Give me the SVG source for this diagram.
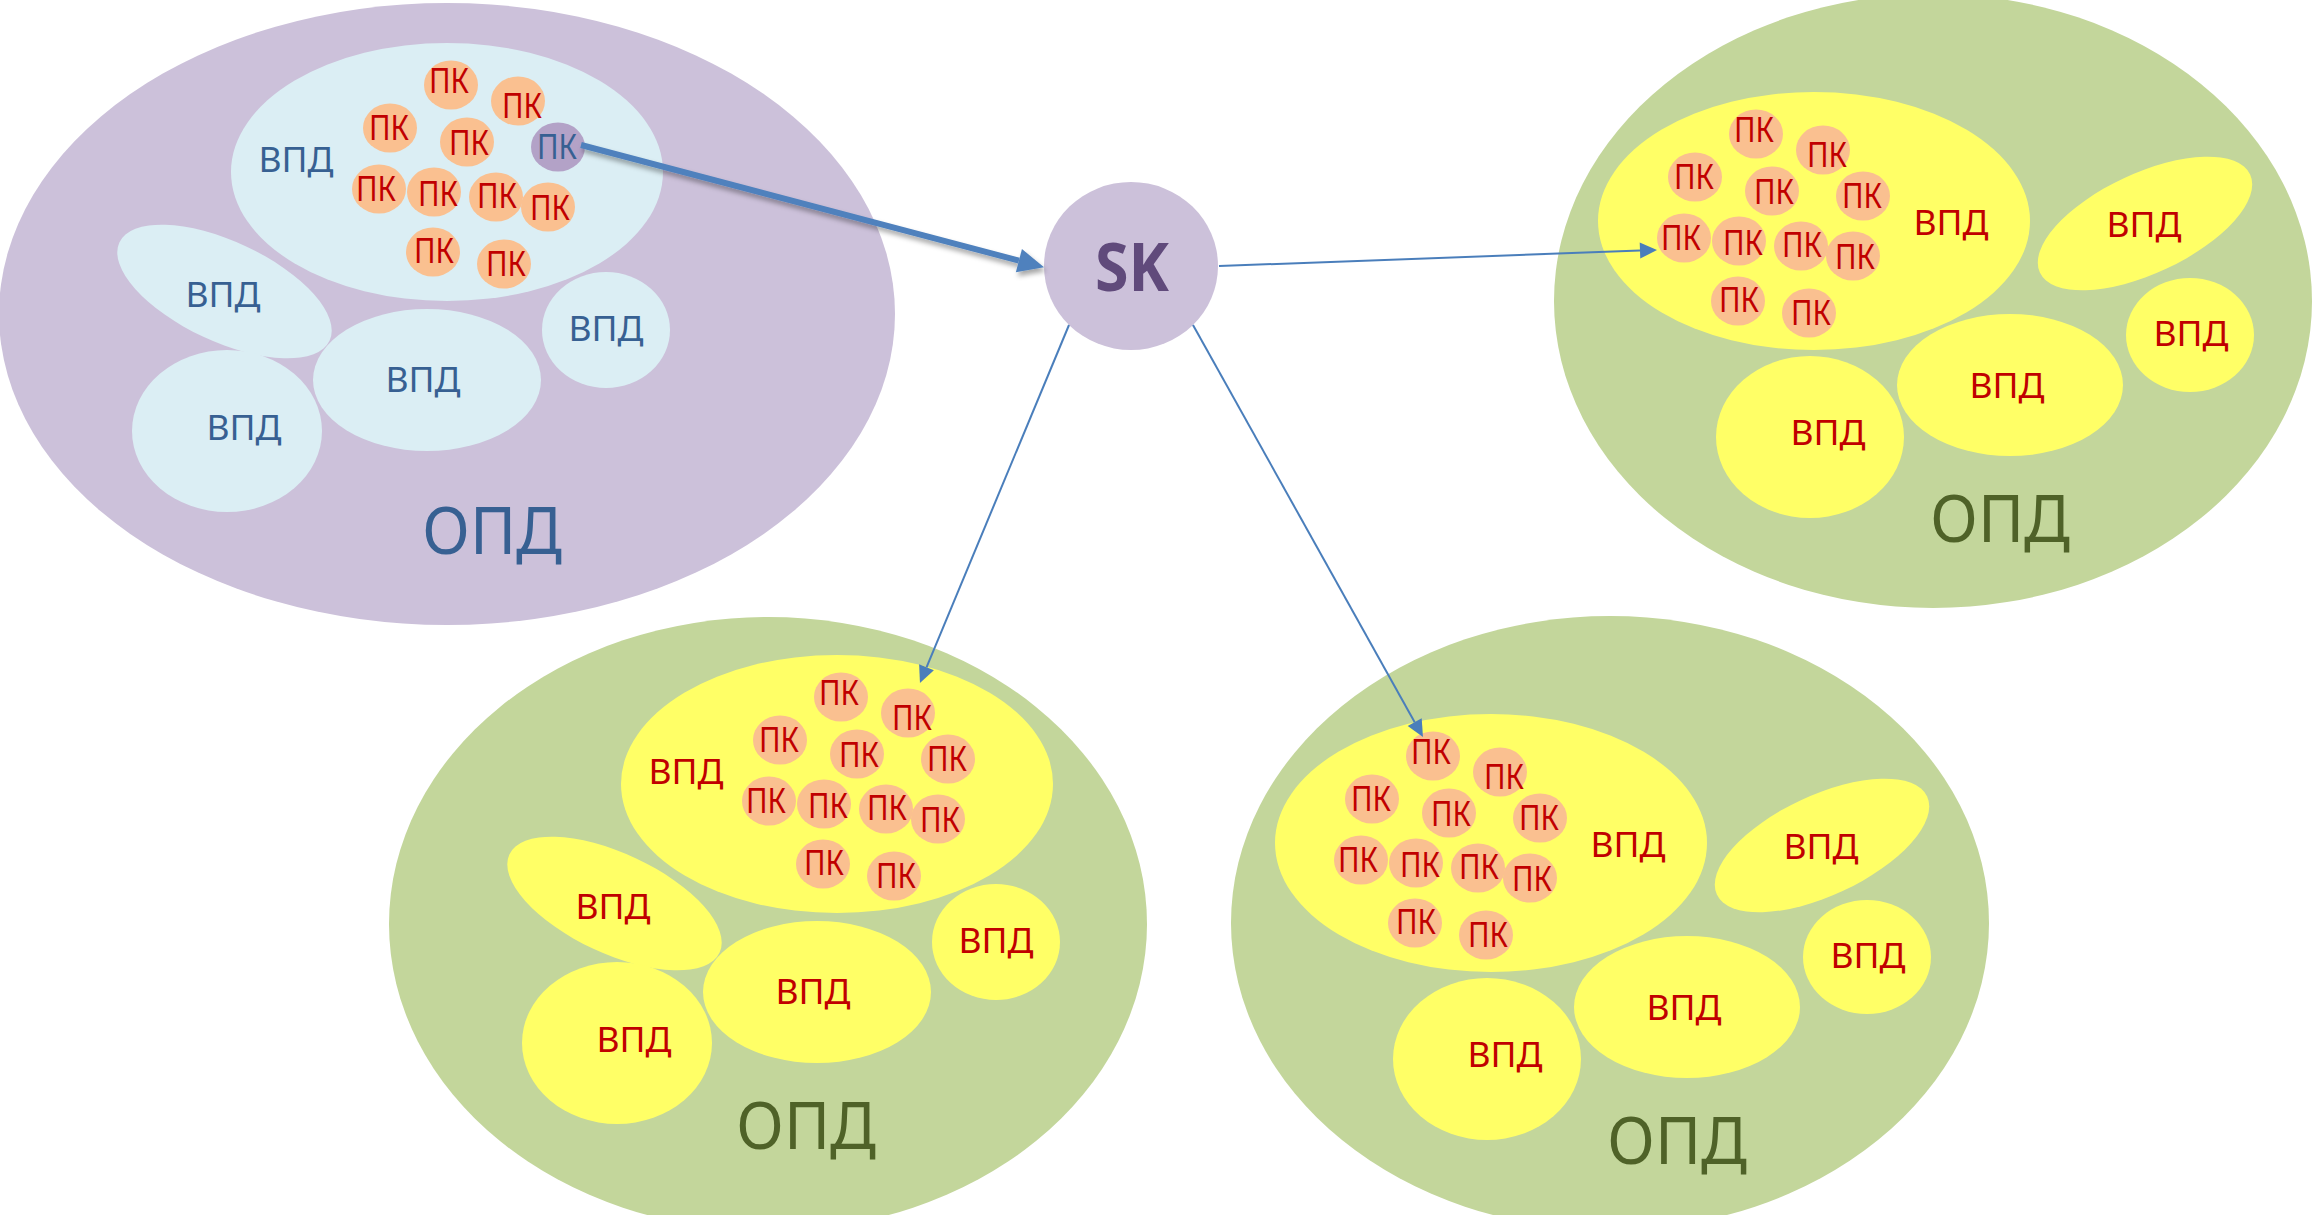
<svg xmlns="http://www.w3.org/2000/svg" width="2313" height="1215" viewBox="0 0 2313 1215">
<defs>
<style>
.opdp{fill:#CCC1DA}
.opdg{fill:#C3D69B}
.vb{fill:#DBEEF4}
.vy{fill:#FFFF66}
.pk{fill:#FAC090}
.pkp{fill:#B3A2C7}
text{font-family:"Noto Sans","Open Sans","DejaVu Sans",sans-serif;text-anchor:middle}
.tr{fill:#C00000;font-size:35px}
.tb{fill:#376092;font-size:35px}
.ob{fill:#376092;font-size:65px}
.og{fill:#4F6228;font-size:65px}
.sk{fill:#604A7B;font-size:67px;font-weight:bold}
.thin{stroke:#4A7EBB;stroke-width:2;fill:none}
.thick{stroke:#4F81BD;stroke-width:6;fill:none}
</style>
<marker id="ah" markerUnits="userSpaceOnUse" markerWidth="18" markerHeight="18" refX="0" refY="8" orient="auto" overflow="visible">
<path d="M0,0 L17,8 L0,16 Z" fill="#4A7EBB"/>
</marker>
<marker id="ahb" markerUnits="userSpaceOnUse" markerWidth="28" markerHeight="26" refX="0" refY="12" orient="auto" overflow="visible">
<path d="M0,0 L26,12 L0,24 Z" fill="#4F81BD"/>
</marker>
<filter id="sh" x="-10%" y="-30%" width="120%" height="160%">
<feDropShadow dx="2" dy="4" stdDeviation="2.5" flood-color="#000" flood-opacity="0.35"/>
</filter>
</defs>

<!-- ОПД 1 (purple) -->
<g id="opd1">
<ellipse class="opdp" cx="447" cy="314" rx="448" ry="311"/>
<text class="ob" x="492" y="554" textLength="140" lengthAdjust="spacingAndGlyphs">ОПД</text>
<g id="opd1-vpd-main">
<ellipse class="vb" cx="447" cy="172" rx="216" ry="129"/>
<text class="tb" x="296" y="172" textLength="75" lengthAdjust="spacingAndGlyphs">ВПД</text>
<g id="opd1-pk1"><ellipse class="pk" cx="451" cy="85" rx="27" ry="24.5"/><text class="tr" x="449" y="93" textLength="40" lengthAdjust="spacingAndGlyphs">ПК</text></g>
<g id="opd1-pk2"><ellipse class="pk" cx="518" cy="101" rx="27" ry="24.5"/><text class="tr" x="522" y="118" textLength="40" lengthAdjust="spacingAndGlyphs">ПК</text></g>
<g id="opd1-pk3"><ellipse class="pk" cx="390" cy="128" rx="27" ry="24.5"/><text class="tr" x="389" y="140" textLength="40" lengthAdjust="spacingAndGlyphs">ПК</text></g>
<g id="opd1-pk4"><ellipse class="pk" cx="467" cy="142" rx="27" ry="24.5"/><text class="tr" x="469" y="155" textLength="40" lengthAdjust="spacingAndGlyphs">ПК</text></g>
<g id="opd1-pk5"><ellipse class="pkp" cx="558" cy="147" rx="27" ry="24.5"/><text class="tb" x="557" y="159" textLength="40" lengthAdjust="spacingAndGlyphs">ПК</text></g>
<g id="opd1-pk6"><ellipse class="pk" cx="379" cy="189" rx="27" ry="24.5"/><text class="tr" x="376" y="201" textLength="40" lengthAdjust="spacingAndGlyphs">ПК</text></g>
<g id="opd1-pk7"><ellipse class="pk" cx="434" cy="192" rx="27" ry="24.5"/><text class="tr" x="438" y="206" textLength="40" lengthAdjust="spacingAndGlyphs">ПК</text></g>
<g id="opd1-pk8"><ellipse class="pk" cx="496" cy="197" rx="27" ry="24.5"/><text class="tr" x="497" y="208" textLength="40" lengthAdjust="spacingAndGlyphs">ПК</text></g>
<g id="opd1-pk9"><ellipse class="pk" cx="548" cy="207" rx="27" ry="24.5"/><text class="tr" x="550" y="220" textLength="40" lengthAdjust="spacingAndGlyphs">ПК</text></g>
<g id="opd1-pk10"><ellipse class="pk" cx="433" cy="252" rx="27" ry="24.5"/><text class="tr" x="434" y="263" textLength="40" lengthAdjust="spacingAndGlyphs">ПК</text></g>
<g id="opd1-pk11"><ellipse class="pk" cx="504" cy="264" rx="27" ry="24.5"/><text class="tr" x="506" y="276" textLength="40" lengthAdjust="spacingAndGlyphs">ПК</text></g>
</g>
<g id="opd1-vpd2"><ellipse class="vb" cx="224.5" cy="291.5" rx="116" ry="50" transform="rotate(25 224.5 291.5)"/><text class="tb" x="223" y="307" textLength="75" lengthAdjust="spacingAndGlyphs">ВПД</text></g>
<g id="opd1-vpd3"><ellipse class="vb" cx="227" cy="431" rx="95" ry="81"/><text class="tb" x="244" y="440" textLength="75" lengthAdjust="spacingAndGlyphs">ВПД</text></g>
<g id="opd1-vpd4"><ellipse class="vb" cx="427" cy="380" rx="114" ry="71"/><text class="tb" x="423" y="392" textLength="75" lengthAdjust="spacingAndGlyphs">ВПД</text></g>
<g id="opd1-vpd5"><ellipse class="vb" cx="606" cy="330" rx="64" ry="58"/><text class="tb" x="606" y="341" textLength="75" lengthAdjust="spacingAndGlyphs">ВПД</text></g>
</g>

<!-- ОПД 2 (top right) -->
<g id="opd2">
<ellipse class="opdg" cx="1933" cy="301" rx="379" ry="307"/>
<text class="og" x="2000" y="542" textLength="140" lengthAdjust="spacingAndGlyphs">ОПД</text>
<g id="opd2-vpd-main">
<ellipse class="vy" cx="1814" cy="221" rx="216" ry="129"/>
<text class="tr" x="1951" y="235" textLength="75" lengthAdjust="spacingAndGlyphs">ВПД</text>
<g id="opd2-pk1"><ellipse class="pk" cx="1756" cy="134" rx="27" ry="24.5"/><text class="tr" x="1754" y="142" textLength="40" lengthAdjust="spacingAndGlyphs">ПК</text></g>
<g id="opd2-pk2"><ellipse class="pk" cx="1823" cy="150" rx="27" ry="24.5"/><text class="tr" x="1827" y="167" textLength="40" lengthAdjust="spacingAndGlyphs">ПК</text></g>
<g id="opd2-pk3"><ellipse class="pk" cx="1695" cy="177" rx="27" ry="24.5"/><text class="tr" x="1694" y="189" textLength="40" lengthAdjust="spacingAndGlyphs">ПК</text></g>
<g id="opd2-pk4"><ellipse class="pk" cx="1772" cy="191" rx="27" ry="24.5"/><text class="tr" x="1774" y="204" textLength="40" lengthAdjust="spacingAndGlyphs">ПК</text></g>
<g id="opd2-pk5"><ellipse class="pk" cx="1863" cy="196" rx="27" ry="24.5"/><text class="tr" x="1862" y="208" textLength="40" lengthAdjust="spacingAndGlyphs">ПК</text></g>
<g id="opd2-pk6"><ellipse class="pk" cx="1684" cy="238" rx="27" ry="24.5"/><text class="tr" x="1681" y="250" textLength="40" lengthAdjust="spacingAndGlyphs">ПК</text></g>
<g id="opd2-pk7"><ellipse class="pk" cx="1739" cy="241" rx="27" ry="24.5"/><text class="tr" x="1743" y="255" textLength="40" lengthAdjust="spacingAndGlyphs">ПК</text></g>
<g id="opd2-pk8"><ellipse class="pk" cx="1801" cy="246" rx="27" ry="24.5"/><text class="tr" x="1802" y="257" textLength="40" lengthAdjust="spacingAndGlyphs">ПК</text></g>
<g id="opd2-pk9"><ellipse class="pk" cx="1853" cy="256" rx="27" ry="24.5"/><text class="tr" x="1855" y="269" textLength="40" lengthAdjust="spacingAndGlyphs">ПК</text></g>
<g id="opd2-pk10"><ellipse class="pk" cx="1738" cy="301" rx="27" ry="24.5"/><text class="tr" x="1739" y="312" textLength="40" lengthAdjust="spacingAndGlyphs">ПК</text></g>
<g id="opd2-pk11"><ellipse class="pk" cx="1809" cy="313" rx="27" ry="24.5"/><text class="tr" x="1811" y="325" textLength="40" lengthAdjust="spacingAndGlyphs">ПК</text></g>
</g>
<g id="opd2-vpd2"><ellipse class="vy" cx="2145" cy="223.5" rx="116" ry="50" transform="rotate(-25 2145 223.5)"/><text class="tr" x="2144" y="237" textLength="75" lengthAdjust="spacingAndGlyphs">ВПД</text></g>
<g id="opd2-vpd3"><ellipse class="vy" cx="1810" cy="437" rx="94" ry="81"/><text class="tr" x="1828" y="445" textLength="75" lengthAdjust="spacingAndGlyphs">ВПД</text></g>
<g id="opd2-vpd4"><ellipse class="vy" cx="2010" cy="385" rx="113" ry="71"/><text class="tr" x="2007" y="398" textLength="75" lengthAdjust="spacingAndGlyphs">ВПД</text></g>
<g id="opd2-vpd5"><ellipse class="vy" cx="2190" cy="335" rx="64" ry="57"/><text class="tr" x="2191" y="346" textLength="75" lengthAdjust="spacingAndGlyphs">ВПД</text></g>
</g>

<!-- ОПД 3 (bottom left) -->
<g id="opd3">
<ellipse class="opdg" cx="768" cy="924" rx="379" ry="307"/>
<text class="og" x="806" y="1149" textLength="140" lengthAdjust="spacingAndGlyphs">ОПД</text>
<g id="opd3-vpd-main">
<ellipse class="vy" cx="837" cy="784" rx="216" ry="129"/>
<text class="tr" x="686" y="784" textLength="75" lengthAdjust="spacingAndGlyphs">ВПД</text>
<g id="opd3-pk1"><ellipse class="pk" cx="841" cy="697" rx="27" ry="24.5"/><text class="tr" x="839" y="705" textLength="40" lengthAdjust="spacingAndGlyphs">ПК</text></g>
<g id="opd3-pk2"><ellipse class="pk" cx="908" cy="713" rx="27" ry="24.5"/><text class="tr" x="912" y="730" textLength="40" lengthAdjust="spacingAndGlyphs">ПК</text></g>
<g id="opd3-pk3"><ellipse class="pk" cx="780" cy="740" rx="27" ry="24.5"/><text class="tr" x="779" y="752" textLength="40" lengthAdjust="spacingAndGlyphs">ПК</text></g>
<g id="opd3-pk4"><ellipse class="pk" cx="857" cy="754" rx="27" ry="24.5"/><text class="tr" x="859" y="767" textLength="40" lengthAdjust="spacingAndGlyphs">ПК</text></g>
<g id="opd3-pk5"><ellipse class="pk" cx="948" cy="759" rx="27" ry="24.5"/><text class="tr" x="947" y="771" textLength="40" lengthAdjust="spacingAndGlyphs">ПК</text></g>
<g id="opd3-pk6"><ellipse class="pk" cx="769" cy="801" rx="27" ry="24.5"/><text class="tr" x="766" y="813" textLength="40" lengthAdjust="spacingAndGlyphs">ПК</text></g>
<g id="opd3-pk7"><ellipse class="pk" cx="824" cy="804" rx="27" ry="24.5"/><text class="tr" x="828" y="818" textLength="40" lengthAdjust="spacingAndGlyphs">ПК</text></g>
<g id="opd3-pk8"><ellipse class="pk" cx="886" cy="809" rx="27" ry="24.5"/><text class="tr" x="887" y="820" textLength="40" lengthAdjust="spacingAndGlyphs">ПК</text></g>
<g id="opd3-pk9"><ellipse class="pk" cx="938" cy="819" rx="27" ry="24.5"/><text class="tr" x="940" y="832" textLength="40" lengthAdjust="spacingAndGlyphs">ПК</text></g>
<g id="opd3-pk10"><ellipse class="pk" cx="823" cy="864" rx="27" ry="24.5"/><text class="tr" x="824" y="875" textLength="40" lengthAdjust="spacingAndGlyphs">ПК</text></g>
<g id="opd3-pk11"><ellipse class="pk" cx="894" cy="876" rx="27" ry="24.5"/><text class="tr" x="896" y="888" textLength="40" lengthAdjust="spacingAndGlyphs">ПК</text></g>
</g>
<g id="opd3-vpd2"><ellipse class="vy" cx="614.5" cy="903.5" rx="116" ry="50" transform="rotate(25 614.5 903.5)"/><text class="tr" x="613" y="919" textLength="75" lengthAdjust="spacingAndGlyphs">ВПД</text></g>
<g id="opd3-vpd3"><ellipse class="vy" cx="617" cy="1043" rx="95" ry="81"/><text class="tr" x="634" y="1052" textLength="75" lengthAdjust="spacingAndGlyphs">ВПД</text></g>
<g id="opd3-vpd4"><ellipse class="vy" cx="817" cy="992" rx="114" ry="71"/><text class="tr" x="813" y="1004" textLength="75" lengthAdjust="spacingAndGlyphs">ВПД</text></g>
<g id="opd3-vpd5"><ellipse class="vy" cx="996" cy="942" rx="64" ry="58"/><text class="tr" x="996" y="953" textLength="75" lengthAdjust="spacingAndGlyphs">ВПД</text></g>
</g>

<!-- ОПД 4 (bottom right) -->
<g id="opd4">
<ellipse class="opdg" cx="1610" cy="923" rx="379" ry="307"/>
<text class="og" x="1677" y="1164" textLength="140" lengthAdjust="spacingAndGlyphs">ОПД</text>
<g id="opd4-vpd-main">
<ellipse class="vy" cx="1491" cy="843" rx="216" ry="129"/>
<text class="tr" x="1628" y="857" textLength="75" lengthAdjust="spacingAndGlyphs">ВПД</text>
<g id="opd4-pk1"><ellipse class="pk" cx="1433" cy="756" rx="27" ry="24.5"/><text class="tr" x="1431" y="764" textLength="40" lengthAdjust="spacingAndGlyphs">ПК</text></g>
<g id="opd4-pk2"><ellipse class="pk" cx="1500" cy="772" rx="27" ry="24.5"/><text class="tr" x="1504" y="789" textLength="40" lengthAdjust="spacingAndGlyphs">ПК</text></g>
<g id="opd4-pk3"><ellipse class="pk" cx="1372" cy="799" rx="27" ry="24.5"/><text class="tr" x="1371" y="811" textLength="40" lengthAdjust="spacingAndGlyphs">ПК</text></g>
<g id="opd4-pk4"><ellipse class="pk" cx="1449" cy="813" rx="27" ry="24.5"/><text class="tr" x="1451" y="826" textLength="40" lengthAdjust="spacingAndGlyphs">ПК</text></g>
<g id="opd4-pk5"><ellipse class="pk" cx="1540" cy="818" rx="27" ry="24.5"/><text class="tr" x="1539" y="830" textLength="40" lengthAdjust="spacingAndGlyphs">ПК</text></g>
<g id="opd4-pk6"><ellipse class="pk" cx="1361" cy="860" rx="27" ry="24.5"/><text class="tr" x="1358" y="872" textLength="40" lengthAdjust="spacingAndGlyphs">ПК</text></g>
<g id="opd4-pk7"><ellipse class="pk" cx="1416" cy="863" rx="27" ry="24.5"/><text class="tr" x="1420" y="877" textLength="40" lengthAdjust="spacingAndGlyphs">ПК</text></g>
<g id="opd4-pk8"><ellipse class="pk" cx="1478" cy="868" rx="27" ry="24.5"/><text class="tr" x="1479" y="879" textLength="40" lengthAdjust="spacingAndGlyphs">ПК</text></g>
<g id="opd4-pk9"><ellipse class="pk" cx="1530" cy="878" rx="27" ry="24.5"/><text class="tr" x="1532" y="891" textLength="40" lengthAdjust="spacingAndGlyphs">ПК</text></g>
<g id="opd4-pk10"><ellipse class="pk" cx="1415" cy="923" rx="27" ry="24.5"/><text class="tr" x="1416" y="934" textLength="40" lengthAdjust="spacingAndGlyphs">ПК</text></g>
<g id="opd4-pk11"><ellipse class="pk" cx="1486" cy="935" rx="27" ry="24.5"/><text class="tr" x="1488" y="947" textLength="40" lengthAdjust="spacingAndGlyphs">ПК</text></g>
</g>
<g id="opd4-vpd2"><ellipse class="vy" cx="1822" cy="845.5" rx="116" ry="50" transform="rotate(-25 1822 845.5)"/><text class="tr" x="1821" y="859" textLength="75" lengthAdjust="spacingAndGlyphs">ВПД</text></g>
<g id="opd4-vpd3"><ellipse class="vy" cx="1487" cy="1059" rx="94" ry="81"/><text class="tr" x="1505" y="1067" textLength="75" lengthAdjust="spacingAndGlyphs">ВПД</text></g>
<g id="opd4-vpd4"><ellipse class="vy" cx="1687" cy="1007" rx="113" ry="71"/><text class="tr" x="1684" y="1020" textLength="75" lengthAdjust="spacingAndGlyphs">ВПД</text></g>
<g id="opd4-vpd5"><ellipse class="vy" cx="1867" cy="957" rx="64" ry="57"/><text class="tr" x="1868" y="968" textLength="75" lengthAdjust="spacingAndGlyphs">ВПД</text></g>
</g>

<!-- SK node -->
<g id="sk">
<ellipse class="opdp" cx="1131" cy="266" rx="87" ry="84"/>
<text class="sk" x="1132" y="291" textLength="74" lengthAdjust="spacingAndGlyphs">SK</text>
</g>

<!-- connectors -->
<g id="connectors">
<line class="thick" x1="581" y1="145" x2="1018.9" y2="260.6" marker-end="url(#ahb)" filter="url(#sh)"/>
<line class="thin" x1="1219" y1="266" x2="1640" y2="250.6" marker-end="url(#ah)"/>
<line class="thin" x1="1069" y1="325" x2="926.5" y2="667.3" marker-end="url(#ah)"/>
<line class="thin" x1="1193" y1="325" x2="1414.7" y2="722.2" marker-end="url(#ah)"/>
</g>
</svg>
